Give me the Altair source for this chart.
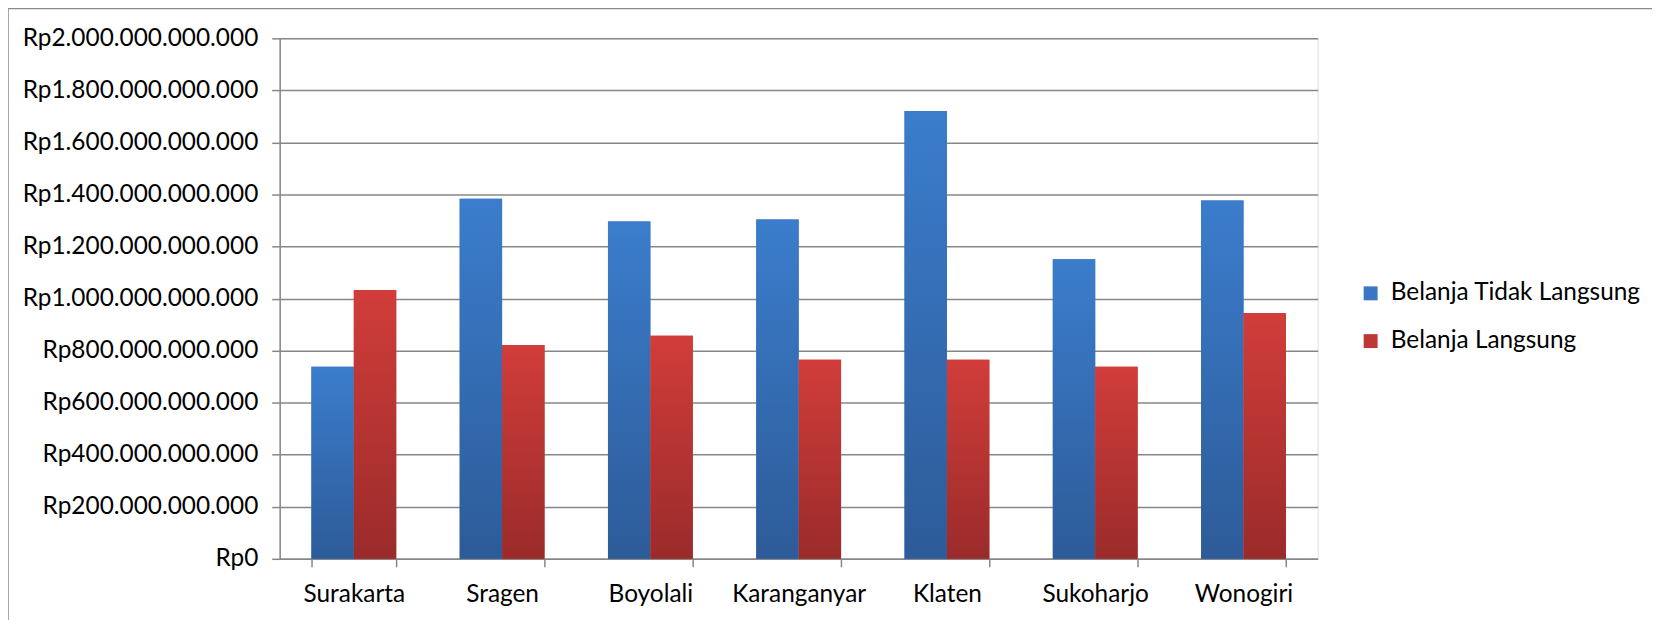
import altair as alt
import pandas as pd

kabupaten = ["Surakarta", "Sragen", "Boyolali", "Karanganyar", "Klaten", "Sukoharjo", "Wonogiri"]
series = ["Belanja Tidak Langsung", "Belanja Langsung"]
tidak_langsung = [738e9, 1384e9, 1296e9, 1304e9, 1721e9, 1151e9, 1377e9]
langsung = [1033e9, 822e9, 857e9, 765e9, 765e9, 738e9, 945e9]
y_ticks = [0, 200e9, 400e9, 600e9, 800e9, 1000e9, 1200e9, 1400e9, 1600e9, 1800e9, 2000e9]

rows = []
for k, a, b in zip(kabupaten, tidak_langsung, langsung):
    rows.append({"Kabupaten": k, "Seri": series[0], "Nilai": a})
    rows.append({"Kabupaten": k, "Seri": series[1], "Nilai": b})
df = pd.DataFrame(rows)

FONT = "Lato"
FS = 24.5
GRAY = "#878787"

x_enc = alt.X(
    "Kabupaten:N", sort=kabupaten,
    scale=alt.Scale(paddingInner=0.428, paddingOuter=0.214),
    axis=alt.Axis(title=None, labelAngle=0, tickBand="extent", ticks=True, tickSize=8,
                  tickColor=GRAY, tickWidth=1.5, domainColor=GRAY, domainWidth=1.5,
                  labelFont=FONT, labelFontSize=FS, labelColor="black", labelPadding=16,
                  labelLimit=0, grid=False),
)
xoff_enc = alt.XOffset("Seri:N", sort=series,
                       scale=alt.Scale(domain=series, paddingInner=0, paddingOuter=0))
y_enc = alt.Y(
    "Nilai:Q",
    scale=alt.Scale(domain=[0, 2e12], nice=False),
    axis=alt.Axis(title=None, values=y_ticks,
                  labelExpr="'Rp' + replace(format(datum.value, ',.0f'), regexp(',', 'g'), '.')",
                  grid=True, gridColor=GRAY, gridWidth=1.5, tickSize=8, tickColor=GRAY,
                  tickWidth=1.5, domainColor=GRAY, domainWidth=1.5, labelLimit=0,
                  labelFont=FONT, labelFontSize=FS, labelColor="black", labelPadding=14),
)

base = alt.Chart(df).mark_bar().encode(
    x=x_enc, xOffset=xoff_enc, y=y_enc,
    color=alt.Color("Seri:N", sort=series,
                    scale=alt.Scale(domain=series, range=["#3A77C2", "#BE3735"]),
                    legend=alt.Legend(title=None, orient="none", legendX=1084, legendY=244,
                                      symbolType="square", symbolSize=196, symbolStrokeWidth=0,
                                      labelFont=FONT, labelFontSize=FS, labelColor="black",
                                      labelLimit=0, rowPadding=23, labelOffset=8)),
)


def grad(top, bottom):
    return alt.Gradient(gradient="linear",
                        stops=[alt.GradientStop(color=top, offset=0),
                               alt.GradientStop(color=bottom, offset=1)],
                        x1=0, x2=0, y1=0, y2=1)


blue = alt.Chart(df).mark_bar(color=grad("#3B7DCC", "#2D5B98")).encode(
    x=x_enc, xOffset=xoff_enc, y=y_enc
).transform_filter(alt.datum.Seri == series[0])

red = alt.Chart(df).mark_bar(color=grad("#D13D3A", "#9A2B2A")).encode(
    x=x_enc, xOffset=xoff_enc, y=y_enc
).transform_filter(alt.datum.Seri == series[1])

border = alt.Chart(pd.DataFrame({"k": [0]})).mark_rect(
    fillOpacity=0, stroke="#8a8a8a", strokeWidth=1.5
).encode(x=alt.value(-273), x2=alt.value(1400), y=alt.value(-30), y2=alt.value(640))

chart = alt.layer(border, base, blue, red).properties(
    width=1043, height=523,
    autosize=alt.AutoSizeParams(type="none"),
    padding={"left": 273, "top": 29, "right": 336, "bottom": 60},
).configure_view(stroke=None).configure(background="white")

chart.save("out.html", embed_options={"renderer": "svg", "actions": False})
